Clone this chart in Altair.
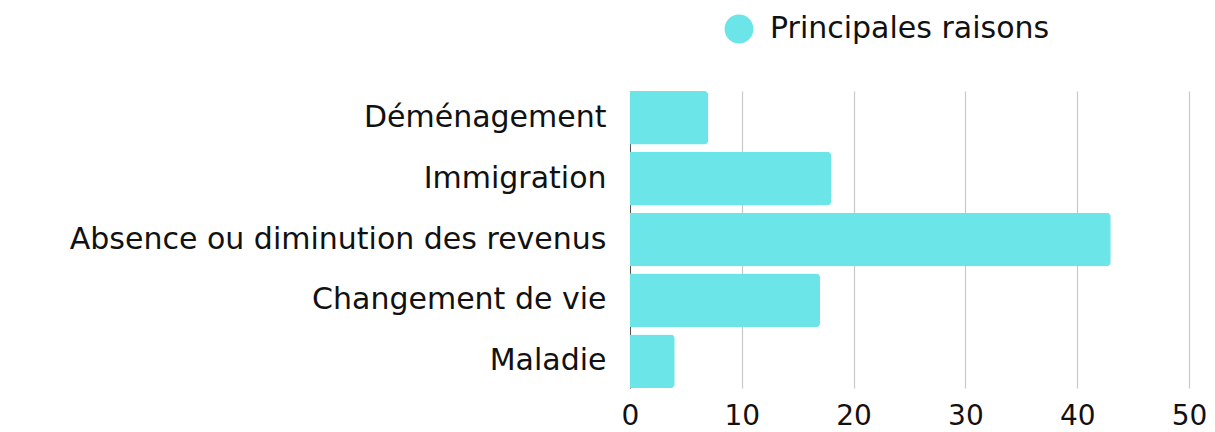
import altair as alt
import pandas as pd

categories = ["Déménagement", "Immigration", "Absence ou diminution des revenus", "Changement de vie", "Maladie"]
values = [7, 18, 43, 17, 4]
series = ["Principales raisons"] * len(categories)

df = pd.DataFrame({"cat": categories, "val": values, "serie": series})

FONT = "DejaVu Sans"
FS = 30

chart = alt.Chart(df).mark_bar(cornerRadiusEnd=4).encode(
    y=alt.Y("cat:N", sort=categories, title=None,
            scale=alt.Scale(paddingInner=0.12, paddingOuter=0),
            axis=alt.Axis(labelFontSize=FS, labelColor="#111111", labelFont=FONT,
                          labelPadding=24, ticks=False, domain=True, domainColor="#555555",
                          labelLimit=800)),
    x=alt.X("val:Q", title=None,
            scale=alt.Scale(domain=[0, 50], nice=False),
            axis=alt.Axis(values=[0, 10, 20, 30, 40, 50], labelFontSize=28, labelFont=FONT,
                          labelColor="#111111", ticks=False, domain=False, grid=True,
                          labelFlush=False,
                          gridColor="#c8c8c8", gridWidth=1.2, labelPadding=14)),
    color=alt.Color("serie:N", title=None,
                    scale=alt.Scale(domain=["Principales raisons"], range=["#6ce5e8"]),
                    legend=alt.Legend(orient="none", legendX=94, legendY=-77,
                                      symbolType="circle", symbolSize=830,
                                      symbolStrokeWidth=0, symbolOpacity=1,
                                      labelFontSize=FS, labelFont=FONT, labelColor="#111111",
                                      labelOffset=16, labelLimit=600)),
).properties(
    width=559, height=297,
    autosize=alt.AutoSizeParams(type="none"),
    padding={"left": 622, "top": 83, "right": 18, "bottom": 44},
).configure_view(stroke=None)

chart.save("out.html", embed_options={"renderer": "svg", "actions": False})
